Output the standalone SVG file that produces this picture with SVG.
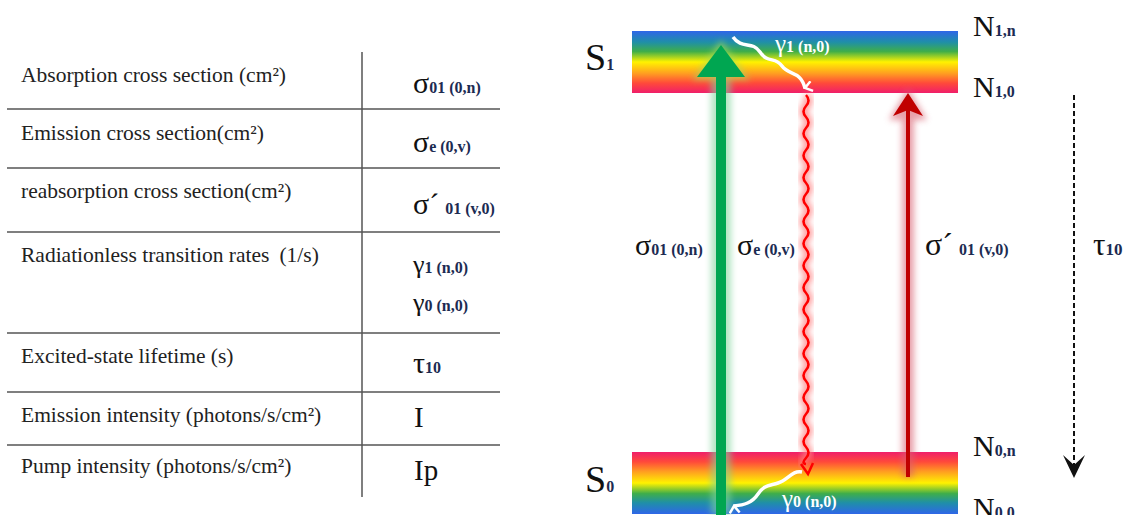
<svg xmlns="http://www.w3.org/2000/svg" width="1130" height="515" viewBox="0 0 1130 515">
<style>
.lbl{font-family:"Liberation Serif","Times New Roman",serif;font-size:21.5px;fill:#222;}
.sym{font-family:"Liberation Serif","Times New Roman",serif;fill:#111;}
.sub{font-family:"Liberation Serif","Times New Roman",serif;font-weight:bold;fill:#1c2b52;}
.wsym{font-family:"Liberation Serif","Times New Roman",serif;fill:#fff;}
.wsub{font-family:"Liberation Serif","Times New Roman",serif;font-weight:bold;fill:#fff;}
.rule{stroke:#555;stroke-width:1.5;}
</style>
<defs>
<linearGradient id="gTop" x1="0" y1="0" x2="0" y2="1">
<stop offset="0" stop-color="#2f66e8"/>
<stop offset="0.18" stop-color="#1f8fa8"/>
<stop offset="0.33" stop-color="#3fae4a"/>
<stop offset="0.5" stop-color="#fff200"/>
<stop offset="0.68" stop-color="#ffa020"/>
<stop offset="0.84" stop-color="#ff4a3a"/>
<stop offset="1" stop-color="#f01e6a"/>
</linearGradient>
<linearGradient id="gBot" x1="0" y1="1" x2="0" y2="0">
<stop offset="0" stop-color="#2f66e8"/>
<stop offset="0.18" stop-color="#1f8fa8"/>
<stop offset="0.33" stop-color="#3fae4a"/>
<stop offset="0.5" stop-color="#fff200"/>
<stop offset="0.68" stop-color="#ffa020"/>
<stop offset="0.84" stop-color="#ff4a3a"/>
<stop offset="1" stop-color="#f01e6a"/>
</linearGradient>
<filter id="blur" x="-100%" y="-20%" width="300%" height="140%"><feGaussianBlur stdDeviation="3"/></filter>
<marker id="wArrowDown" viewBox="0 0 12 12" refX="6" refY="10" markerWidth="12" markerHeight="12" markerUnits="userSpaceOnUse" orient="auto-start-reverse">
<path d="M1,3 L6,10 L11,3" fill="none" stroke="#fff" stroke-width="2.5"/>
</marker>
</defs>

<!-- Table -->
<g id="table">
<line class="rule" x1="362" y1="52" x2="362" y2="497"/>
<line class="rule" x1="7" y1="109" x2="500" y2="109"/>
<line class="rule" x1="7" y1="168" x2="500" y2="168"/>
<line class="rule" x1="7" y1="232" x2="500" y2="232"/>
<line class="rule" x1="7" y1="333" x2="500" y2="333"/>
<line class="rule" x1="7" y1="392" x2="500" y2="392"/>
<line class="rule" x1="7" y1="445" x2="500" y2="445"/>
</g>
<g id="row-absorption">
<text class="lbl" x="21" y="82">Absorption cross section (cm²)</text>
<text class="sym" x="413" y="93" font-size="30">σ<tspan class="sub" font-size="16">01 (0,n)</tspan></text>
</g>
<g id="row-emission">
<text class="lbl" x="21" y="140">Emission cross section(cm²)</text>
<text class="sym" x="413" y="152" font-size="30">σ<tspan class="sub" font-size="16">e (0,v)</tspan></text>
</g>
<g id="row-reabsorption">
<text class="lbl" x="21" y="198">reabsorption cross section(cm²)</text>
<text class="sym" x="413" y="214" font-size="30">σ´<tspan class="sub" font-size="16" dx="6">01 (v,0)</tspan></text>
</g>
<g id="row-radiationless">
<text class="lbl" x="21" y="262">Radiationless transition rates<tspan dx="10">(1/s)</tspan></text>
<text class="sym" x="413" y="273" font-size="26">γ<tspan class="sub" font-size="16">1 (n,0)</tspan></text>
<text class="sym" x="413" y="311" font-size="26">γ<tspan class="sub" font-size="16">0 (n,0)</tspan></text>
</g>
<g id="row-lifetime">
<text class="lbl" x="21" y="363">Excited-state lifetime (s)</text>
<text class="sym" x="413" y="373" font-size="30">τ<tspan class="sub" font-size="16">10</tspan></text>
</g>
<g id="row-emission-intensity">
<text class="lbl" x="21" y="422">Emission intensity (photons/s/cm²)</text>
<text class="sym" x="414" y="427" font-size="29">I</text>
</g>
<g id="row-pump">
<text class="lbl" x="21" y="473">Pump intensity (photons/s/cm²)</text>
<text class="sym" x="414" y="480" font-size="29">Ip</text>
</g>

<!-- Energy levels -->
<g id="S1">
<rect x="632" y="31" width="326" height="62" fill="url(#gTop)"/>
<text class="sym" x="585" y="70" font-size="38">S<tspan class="sub" font-size="16">1</tspan></text>
</g>
<g id="S0">
<rect x="632" y="452" width="326" height="62" fill="url(#gBot)"/>
<text class="sym" x="585" y="492" font-size="38">S<tspan class="sub" font-size="16">0</tspan></text>
</g>
<g id="N1n"><text class="sym" x="973" y="36" font-size="30">N<tspan class="sub" font-size="16">1,n</tspan></text></g>
<g id="N10"><text class="sym" x="973" y="97" font-size="30">N<tspan class="sub" font-size="16">1,0</tspan></text></g>
<g id="N0n"><text class="sym" x="973" y="456" font-size="30">N<tspan class="sub" font-size="16">0,n</tspan></text></g>
<g id="N00"><text class="sym" x="973" y="518" font-size="30">N<tspan class="sub" font-size="16">0,0</tspan></text></g>

<!-- Connectors -->
<g id="connectors">
<g id="absorption-arrow">
<g filter="url(#blur)" opacity="0.6">
<line x1="721" y1="515" x2="721" y2="76" stroke="#7fd49a" stroke-width="20"/>
<path d="M721,40 L750,80 L692,80 Z" fill="#a6dc60"/>
</g>
<line x1="721" y1="515" x2="721" y2="74" stroke="#00a651" stroke-width="10"/>
<path d="M721,45 L745,77 L697,77 Z" fill="#00a651"/>
</g>
<g id="emission-wave">
<path d="M806,95 q5,5.5 0,11 t0,11 t0,11 t0,11 t0,11 t0,11 t0,11 t0,11 t0,11 t0,11 t0,11 t0,11 t0,11 t0,11 t0,11 t0,11 t0,11 t0,11 t0,11 t0,11 t0,11 t0,11 t0,11 t0,11 t0,11 t0,11 t0,11 t0,11 t0,11 t0,11 t0,11 t0,11 t0,11 t0,6" fill="none" stroke="#ff8080" stroke-width="8" filter="url(#blur)" opacity="0.8"/>
<path d="M806,95 q5,5.5 0,11 t0,11 t0,11 t0,11 t0,11 t0,11 t0,11 t0,11 t0,11 t0,11 t0,11 t0,11 t0,11 t0,11 t0,11 t0,11 t0,11 t0,11 t0,11 t0,11 t0,11 t0,11 t0,11 t0,11 t0,11 t0,11 t0,11 t0,11 t0,11 t0,11 t0,11 t0,11 t0,11 t0,6" fill="none" stroke="#ff0000" stroke-width="2.5"/>
<path d="M801,464 L808,474 L813,463" fill="none" stroke="#ff0000" stroke-width="2.5"/>
</g>
<g id="reabsorption-arrow">
<g filter="url(#blur)" opacity="0.6">
<line x1="908" y1="477" x2="908" y2="110" stroke="#d86070" stroke-width="12"/>
<path d="M908,88 L927,120 L889,120 Z" fill="#d86070"/>
</g>
<line x1="908" y1="477" x2="908" y2="108" stroke="#c00000" stroke-width="4"/>
<path d="M908,93 L923,116 L908,110 L893,116 Z" fill="#c00000"/>
</g>
<g id="lifetime-arrow">
<line x1="1074" y1="95" x2="1074" y2="470" stroke="#111" stroke-width="2" stroke-dasharray="5,3"/>
<path d="M1074,478 L1063,455 L1074,465 L1085,455 Z" fill="#111"/>
</g>
<path id="gamma1-arrow" d="M733,37 C742,50 752,40 760,52 S775,56 782,66 S800,70 805,88" fill="none" stroke="#fff" stroke-width="3.5" marker-end="url(#wArrowDown)"/>
<path id="gamma0-arrow" d="M802,472 C792,470 788,480 778,483 S764,485 758,494 S744,505 734,506" fill="none" stroke="#fff" stroke-width="3.5" marker-end="url(#wArrowDown)"/>
</g>

<g id="labels">
<text class="sym" x="635" y="255" font-size="30">σ<tspan class="sub" font-size="16">01 (0,n)</tspan></text>
<text class="sym" x="737" y="255" font-size="30">σ<tspan class="sub" font-size="16">e (0,v)</tspan></text>
<text class="sym" x="925" y="255" font-size="32">σ´<tspan class="sub" font-size="16" dx="6">01 (v,0)</tspan></text>
<text class="sym" x="1093" y="255" font-size="31">τ<tspan class="sub" font-size="17">10</tspan></text>
<text class="wsym" x="775" y="52" font-size="25">γ<tspan class="wsub" font-size="16">1 (n,0)</tspan></text>
<text class="wsym" x="782" y="507" font-size="25">γ<tspan class="wsub" font-size="16">0 (n,0)</tspan></text>
</g>
</svg>
